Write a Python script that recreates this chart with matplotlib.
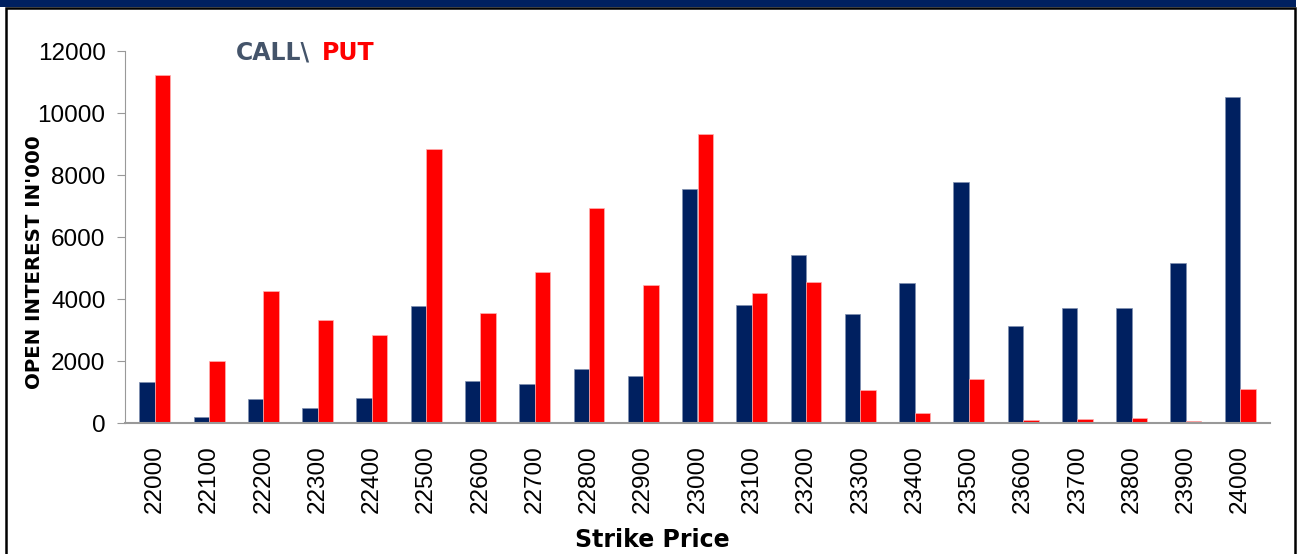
import matplotlib.pyplot as plt
import numpy as np
from matplotlib.patches import Rectangle

strikes = ["22000", "22100", "22200", "22300", "22400", "22500", "22600", "22700",
           "22800", "22900", "23000", "23100", "23200", "23300", "23400", "23500",
           "23600", "23700", "23800", "23900", "24000"]
call_oi = [1320, 200, 770, 480, 820, 3770, 1340, 1260, 1740, 1510, 7550,
           3800, 5420, 3520, 4520, 7780, 3140, 3700, 3700, 5160, 10520]
put_oi = [11220, 2000, 4250, 3320, 2840, 8840, 3550, 4870, 6930, 4450, 9320,
          4190, 4550, 1070, 310, 1430, 90, 140, 160, 65, 1090]

navy = "#002060"
red = "#ff0000"

fig = plt.figure(figsize=(12.99, 5.54), dpi=100)
W, H = 1299, 554

# frame + navy top band
fig.patches.append(Rectangle((0, 1 - 7 / H), 1296 / W, 7 / H, transform=fig.transFigure,
                             facecolor=navy, edgecolor="none", zorder=-2))
fig.patches.append(Rectangle((6 / W, -0.05), 1289 / W, 1.05 - 8 / H, transform=fig.transFigure,
                             facecolor="white", edgecolor="black", lw=1.8, zorder=-1))

ax = fig.add_axes([125 / W, 1 - 423 / H, 1145 / W, 372 / H])
ax.patch.set_alpha(0)
x = np.arange(len(strikes))
w = 0.285
ax.bar(x - w / 2, call_oi, w, color=navy, edgecolor="#8090b0", linewidth=0.5)
ax.bar(x + w / 2, put_oi, w, color=red, edgecolor="#ffb0b0", linewidth=0.5)

ax.set_xlim(-0.55, len(strikes) - 0.45)
ax.set_ylim(0, 12000)
ax.set_yticks(np.arange(0, 12001, 2000))
ax.set_xticks(x)
ax.set_xticklabels(strikes, rotation=90, fontsize=17.5, family="Liberation Sans")
ax.tick_params(axis="y", labelsize=17.5, length=6, color="#999999", pad=8)
ax.tick_params(axis="x", length=0, pad=16)
for lbl in ax.get_yticklabels():
    lbl.set_family("Liberation Sans")

for s in ["top", "right"]:
    ax.spines[s].set_visible(False)
ax.spines["left"].set_color("#999999")
ax.spines["bottom"].set_color("#999999")
ax.spines["bottom"].set_linewidth(1.5)

fig.text(35 / W, 1 - 262 / H, "OPEN INTEREST IN'000", fontsize=14.2, fontweight="bold",
         rotation=90, ha="center", va="center")
fig.text(652 / W, 1 - 540 / H, "Strike Price", fontsize=17, fontweight="bold",
         ha="center", va="center")

fig.text(236 / W, 1 - 53 / H, "CALL\\", fontsize=17, fontweight="bold", color="#44546a",
         va="center", ha="left")
fig.text(322 / W, 1 - 53 / H, "PUT", fontsize=17, fontweight="bold", color=red,
         va="center", ha="left")

fig.savefig("out.png", dpi=100)
